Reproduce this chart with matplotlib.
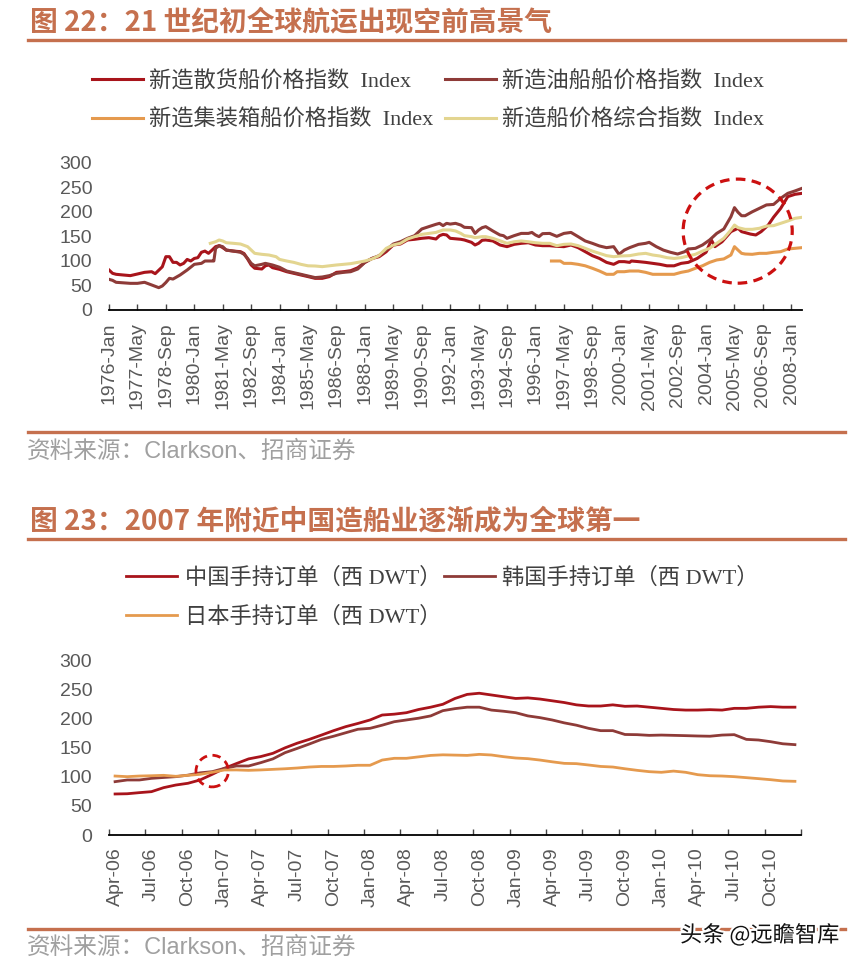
import matplotlib
matplotlib.use("Agg")
import matplotlib.pyplot as plt
from matplotlib.patches import Ellipse
from matplotlib.lines import Line2D
from matplotlib.font_manager import FontProperties
import matplotlib.patheffects as pe

plt.rcParams['font.family'] = ['Liberation Sans', 'Noto Sans CJK SC']

# ---------- 图22 数据 (月序号: 0 = 1976-Jan) ----------
bulk_m = [0, 2, 4, 8, 12, 16, 20, 24, 26, 30, 32, 34, 36, 38, 40, 42, 44, 46, 48, 50,
          52, 54, 56, 58, 60, 62, 64, 66, 70, 74, 76, 78, 80, 82, 86, 88, 90, 92, 96,
          100, 104, 108, 112, 116, 120, 124, 128, 132, 136, 140, 144, 148, 152, 156, 160,
          164, 168, 172, 176, 180, 184, 186, 188, 190, 192,
          195, 198, 200, 204, 206, 208, 210, 212, 216, 220, 224, 228, 232, 236, 240, 244,
          248, 252, 256, 260, 264, 268, 272, 276, 280, 284, 287, 290, 293,
          294, 298, 302, 306, 310, 314, 318, 322, 326, 331, 336, 339, 341, 345, 350, 354,
          356, 361, 364, 367, 371, 374, 378, 382, 386, 390]
bulk_v = [81.5, 74.7, 72.7, 71.3, 70, 73.3, 76.7, 78, 74, 88, 108.6, 108.6, 97, 97, 91.7, 95, 103, 99.8, 105, 106.6,
          117.5, 120, 115.4, 122, 129, 131, 127, 122, 120, 118.8, 115, 103.9, 91.7, 85, 83.5, 90, 91.7, 86.2, 82.8,
          78, 74.7, 71.3, 68, 64.5, 64.5, 68, 76.7, 78, 80, 86, 97, 105, 108.6, 118.8, 132.4,
          134.4, 142.6, 144, 146, 147.3, 144.6, 151.4, 154, 152.8, 146,
          145, 144, 142.6, 137.8, 132.4, 135.8, 142, 142.6, 140.6, 132.4, 129, 133.7, 135.8, 137, 132.4, 131,
          131, 129.7, 129, 132.4, 127, 118.8, 110.7, 105, 97, 93, 98.5, 98.5, 97,
          99.8, 98.5, 97, 95, 93, 90, 90, 95, 97, 105, 117.5, 142.6, 129, 139, 159.6, 166.4,
          159.6, 154.6, 152.8, 159.6, 173, 189, 207, 230.9, 235.6, 237.6]

tanker_m = [0, 2, 4, 12, 16, 20, 24, 28, 30, 32, 34, 36, 40, 44, 48, 52, 54, 56, 58, 59,
            60, 62, 64, 66, 70, 74, 76, 78, 80, 82, 86, 88, 92, 96,
            100, 104, 108, 112, 116, 120, 124, 128, 132, 136, 140, 144, 148, 152, 156, 160,
            164, 168, 172, 176, 180, 184, 186, 188, 190, 192,
            195, 198, 200, 204, 206, 208, 210, 212, 216, 220, 222, 224, 228, 232, 236, 238,
            240, 242, 244, 248, 252, 256, 260, 264, 268, 272, 276, 280, 284, 287, 290, 293,
            298, 302, 304, 308, 312, 316, 320, 324, 326, 330, 334, 338, 342, 346, 350, 352,
            354, 356, 358, 362, 366, 370, 374, 378, 382, 386, 390]
tanker_v = [62.5, 60.4, 56.4, 54.3, 54.3, 56.4, 51, 45.5, 48.9, 56, 64.5, 63, 71.3, 81.5, 93, 95, 99.8, 99.8, 99.8, 99.8,
            125.6, 131, 129, 122, 120, 117.5, 113.4, 105, 95, 90, 93, 95, 91.7, 87,
            79.4, 76, 72.7, 69.3, 66, 67.2, 70, 74.7, 76.7, 78, 83.5, 97, 105, 110.7, 122, 134.4,
            139, 146, 151.4, 165, 169.8, 174.5, 176.5, 171.8, 176.5, 175,
            176.5, 173, 168.4, 167.7, 156, 163, 167.7, 169.8, 161, 152.8, 151.4, 146, 151.4, 156, 156, 158,
            152.8, 149.4, 155.5, 156, 150, 156, 158, 149.4, 140.6, 135.8, 130.4, 127, 129, 113.4, 122, 127,
            133.7, 135.8, 137.8, 129, 122, 117.5, 114, 118.8, 124.3, 125.6, 132.4, 142.6, 156, 165, 190, 208.5,
            199, 192, 192, 200, 207, 214, 215, 227.5, 237.6, 242.4, 247.8]

box_m = [249, 254, 256, 260, 264, 268, 272, 276, 280, 284, 286, 290, 293,
         298, 302, 306, 310, 314, 318, 322, 326, 330, 334, 338, 342, 346, 350, 352,
         354, 356, 358, 362, 366, 370, 374, 378, 382, 386, 390]
box_v = [99.8, 99.8, 95, 95, 93, 90, 85, 79.4, 72.7, 72.7, 78, 78, 79.4,
         79.4, 76.7, 72.7, 72.7, 72.7, 72.7, 76.7, 79.4, 85, 90, 97, 101.9, 104, 112, 129,
         122, 115.4, 114, 113.4, 115.4, 115.4, 117.5, 118.8, 124.3, 125.6, 127]

comp_m = [57, 60, 62, 64, 66, 70, 74, 78, 82, 86, 90, 94, 96,
          100, 104, 108, 112, 116, 120, 124, 128, 132, 136, 140, 144, 148, 152, 156, 160,
          164, 168, 172, 176, 180, 184, 188, 192,
          195, 198, 200, 204, 206, 210, 212, 216, 220, 224, 228, 232, 236, 240, 244, 248,
          252, 256, 260, 264, 268, 272, 276, 280, 284, 288, 293,
          298, 302, 306, 310, 314, 318, 322, 326, 330, 334, 338, 342, 346, 350, 352,
          354, 358, 362, 366, 370, 374, 378, 382, 386, 390]
comp_v = [135.8, 139, 142.6, 140.6, 137, 135.8, 134.4, 129, 115.4, 113.4, 112, 108.6, 103,
          99.8, 97, 93, 90, 89.6, 88.3, 90, 91.7, 93, 94.4, 97, 99.8, 103.9, 110.7, 125.6, 132.4,
          135.8, 144.6, 149.4, 154, 156, 158, 163, 163,
          161, 156, 151.4, 149.4, 147.3, 149.4, 149.4, 146, 141, 135.8, 139, 140.6, 139, 137, 135.8, 135.8,
          131, 133.7, 134.4, 131, 125.6, 120, 115.4, 110.7, 108.6, 110, 110.7,
          114, 115.4, 112, 110, 106.6, 105, 106.6, 110, 113.4, 120, 125.6, 135.8, 146, 163, 173,
          167.7, 164.3, 164.3, 166.4, 171, 171.8, 176.5, 181.3, 186.7, 188.8]

top_tick_labels = ["1976-Jan", "1977-May", "1978-Sep", "1980-Jan", "1981-May", "1982-Sep",
                   "1984-Jan", "1985-May", "1986-Sep", "1988-Jan", "1989-May", "1990-Sep",
                   "1992-Jan", "1993-May", "1994-Sep", "1996-Jan", "1997-May", "1998-Sep",
                   "2000-Jan", "2001-May", "2002-Sep", "2004-Jan", "2005-May", "2006-Sep", "2008-Jan"]

# ---------- 图23 数据 (2006-04 ~ 2010-12, 月度) ----------
china = [70.6, 71, 72.9, 74.6, 81.5, 86, 89, 94.7, 104.4, 114.7, 123, 131, 135, 140.6, 150,
         158, 164.6, 172, 179.6, 186.5, 192, 198, 206.5, 208, 210.5, 216, 220, 225, 235,
         242, 244, 241, 238, 235, 236, 234, 231, 228, 224, 222, 222, 224, 221.5, 222, 220,
         218, 216, 215, 215, 215.7, 215, 218, 218, 220, 221, 220, 220]
korea = [91.8, 94.7, 94.7, 97.5, 99, 100.4, 103, 107, 109, 114.7, 118.8, 118.8, 124.5, 131, 141.7,
         149, 156.6, 164.6, 170, 176, 182, 183.6, 189, 195, 198, 201, 205, 214, 217.5,
         220, 220, 215, 213, 210.5, 205, 202, 198, 193, 189, 183.6, 179.6, 179.6, 173, 172.7, 171.5,
         172, 171.5, 171, 170.4, 170, 172, 172.7, 164.6, 163.5, 160.6, 157, 155.5]
japan = [101.5, 100.4, 101.5, 102, 102.7, 101, 102.7, 104.4, 107.9, 111.9, 112, 111.3, 112, 113, 114,
         115.3, 117, 118, 118, 118.8, 120, 120, 129, 132, 132, 134.5, 137, 138, 137.5,
         137, 138.8, 137.7, 134.8, 132.5, 131.4, 129, 126, 123.3, 122.8, 120.5, 118, 117, 114, 111.3, 109,
         107.9, 110, 107.9, 103.8, 102, 101.5, 100.4, 98.7, 97, 95.2, 93, 92.4]
bottom_tick_labels = ["Apr-06", "Jul-06", "Oct-06", "Jan-07", "Apr-07", "Jul-07", "Oct-07",
                      "Jan-08", "Apr-08", "Jul-08", "Oct-08", "Jan-09", "Apr-09", "Jul-09",
                      "Oct-09", "Jan-10", "Apr-10", "Jul-10", "Oct-10"]

C_BULK = '#A8141B'
C_TANK = '#8E3B38'
C_BOX = '#E59A4E'
C_COMP = '#E3D590'
ACCENT = '#C5704E'
TXT = '#595959'

fig = plt.figure(figsize=(8.53, 9.64), dpi=100)

title_fp = FontProperties(family=['Noto Sans CJK SC'], weight='bold', size=20)
leg_fp = FontProperties(family=['Liberation Serif', 'Noto Sans CJK SC'], size=16)
src_fp = FontProperties(family=['Liberation Sans', 'Noto Sans CJK SC'], size=17)


def frame_text(ytitle, yline, title):
    fig.text(30 / 853, 1 - ytitle / 964, title, fontproperties=title_fp, color=ACCENT,
             ha='left', va='center')
    fig.add_artist(Line2D([28 / 853, 845 / 853], [1 - yline / 964] * 2, color=ACCENT, lw=2.4))


def source_text(yline, ytext):
    fig.add_artist(Line2D([28 / 853, 845 / 853], [1 - yline / 964] * 2, color=ACCENT, lw=2.4))
    fig.text(27 / 853, 1 - ytext / 964, "资料来源：Clarkson、招商证券", fontproperties=src_fp,
             color='#A0A0A0', ha='left', va='center')


def style_axis(ax):
    for s in ['top', 'right', 'left']:
        ax.spines[s].set_visible(False)
    ax.spines['bottom'].set_linewidth(1.3)
    ax.set_ylim(0, 300)
    ax.set_yticks(range(0, 301, 50))
    ax.tick_params(axis='y', length=0, pad=12, labelsize=14, labelcolor=TXT)
    ax.tick_params(axis='x', which='major', direction='in', length=4.5, width=1,
                   color='#444444', labelsize=14, labelcolor=TXT, pad=9)


# ---------------- 图 22 ----------------
frame_text(22, 40, "图 22：21 世纪初全球航运出现空前高景气")
ax1 = fig.add_axes([109 / 853, 1 - 310 / 964, 693 / 853, 147.3 / 964])
l_bulk, = ax1.plot(bulk_m, bulk_v, color=C_BULK, lw=2.2, label="新造散货船价格指数  Index")
l_tank, = ax1.plot(tanker_m, tanker_v, color=C_TANK, lw=2.2, label="新造油船船价格指数  Index")
l_box, = ax1.plot(box_m, box_v, color=C_BOX, lw=2.2, label="新造集装箱船价格指数  Index")
l_comp, = ax1.plot(comp_m, comp_v, color=C_COMP, lw=2.2, label="新造船价格综合指数  Index")
ax1.add_patch(Ellipse((353.8, 160.6), 61.4, 212, fill=False, ec='#CC1010', lw=2.3,
                      ls=(0, (3, 2)), zorder=5, clip_on=False))
ax1.set_xlim(0, 390)
ax1.set_xticks(range(0, 385, 16))
ax1.set_xticklabels(top_tick_labels, rotation=90, ha='center', va='top')
style_axis(ax1)
leg1 = ax1.legend([l_bulk, l_box, l_tank, l_comp],
                  [h.get_label() for h in [l_bulk, l_box, l_tank, l_comp]],
                  loc='upper left', bbox_to_anchor=(92 / 853, 1 - 71 / 964),
                  bbox_transform=fig.transFigure, ncol=2, frameon=False, prop=leg_fp,
                  handlelength=2.3, handletextpad=0.25, columnspacing=0.55,
                  labelspacing=0.78, borderpad=0, borderaxespad=0)
for t in leg1.get_texts():
    t.set_color('#404040')
source_text(432, 452)

# ---------------- 图 23 ----------------
frame_text(521, 539, "图 23：2007 年附近中国造船业逐渐成为全球第一")
ax2 = fig.add_axes([109 / 853, 1 - 835 / 964, 692 / 853, 174.3 / 964])
idx = range(len(china))
l_cn, = ax2.plot(idx, china, color=C_BULK, lw=2.0, label="中国手持订单（西 DWT）")
l_kr, = ax2.plot(idx, korea, color=C_TANK, lw=2.0, label="韩国手持订单（西 DWT）")
l_jp, = ax2.plot(idx, japan, color=C_BOX, lw=2.0, label="日本手持订单（西 DWT）")
ax2.add_patch(Ellipse((8.0, 110), 2.67, 54.4, fill=False, ec='#CC1010', lw=2.0,
                      ls=(0, (3, 2)), zorder=5))
ax2.set_xlim(-0.5, len(china) - 0.5)
ax2.set_xticks([i - 0.5 for i in range(0, len(china) + 1, 3)])
ax2.set_xticklabels([])
ax2.set_xticks(range(0, len(china), 3), minor=True)
ax2.set_xticklabels(bottom_tick_labels, minor=True, rotation=90, ha='center', va='top')
style_axis(ax2)
ax2.tick_params(axis='x', which='minor', length=0, labelsize=14, labelcolor=TXT, pad=9)
leg2 = ax2.legend([l_cn, l_jp, l_kr], [h.get_label() for h in [l_cn, l_jp, l_kr]],
                  loc='upper left', bbox_to_anchor=(126 / 853, 1 - 568 / 964),
                  bbox_transform=fig.transFigure, ncol=2, frameon=False, prop=leg_fp,
                  handlelength=2.3, handletextpad=0.35, columnspacing=0.1,
                  labelspacing=0.78, borderpad=0, borderaxespad=0)
for t in leg2.get_texts():
    t.set_color('#404040')
source_text(929, 948)

fig.text(680 / 853, 1 - 935 / 964, "头条 @远瞻智库", family=['Noto Sans CJK SC'], size=16,
         color='#111111', ha='left', va='center',
         path_effects=[pe.withStroke(linewidth=3, foreground='white')])

fig.savefig("out.png", dpi=100)
